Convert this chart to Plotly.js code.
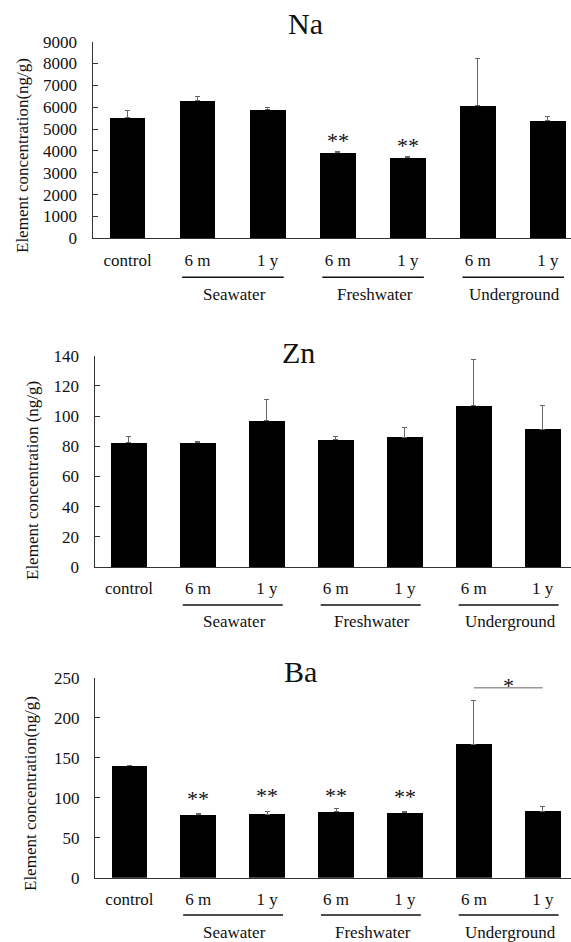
<!DOCTYPE html>
<html><head><meta charset="utf-8">
<script src="https://cdn.plot.ly/plotly-3.0.1.min.js"></script>
<style>html,body{margin:0;padding:0;background:#fff}</style>
</head><body><div id="chart" style="width:571px;height:942px"></div>
<script>
// ---- data ----
const catLabels = ["control", "6 m", "1 y", "6 m", "1 y", "6 m", "1 y"];
const groupNames = ["Seawater", "Freshwater", "Underground"];
const groupStart = [1, 3, 5];   // index of first bar in each group
const elements = ["Na", "Zn", "Ba"];

const naMean = [5520, 6300, 5880, 3920, 3690, 6070, 5380];
const naErr  = [350, 210, 110, 70, 40, 2150, 200];
const naSig  = ["", "", "", "**", "**", "", ""];

const znMean = [82.4, 82.4, 96.9, 84.3, 86.1, 106.9, 91.2];
const znErr  = [4.2, 0.8, 14.2, 2.0, 6.4, 30.4, 16.1];
const znSig  = ["", "", "", "", "", "", ""];

const baMean = [140, 78.8, 79.6, 82.5, 81.3, 166.7, 83.3];
const baErr  = [0.4, 2.0, 2.9, 3.8, 0.9, 55.4, 5.9];
const baSig  = ["", "**", "**", "**", "**", "", ""];
const baPair = {from: 5, to: 6, level: 237.5, mark: "*"};

const yTitles = ["Element concentration(ng/g)", "Element concentration (ng/g)", "Element concentration(ng/g)"];
const yMax = [9000, 140, 250];
const yStep = [1000, 20, 50];

// ---- layout geometry (pixels) ----
const W = 571, H = 942;
const FONT = "Liberation Serif";
const py = p => 1 - p / H;
const panels = [
  {mean: naMean, err: naErr, sig: naSig, axisX: 92.5, top: 41.7, bottom: 238.3, xr: [-0.5, 6.33], bw: 0.51,
   titleY: 23.3, titleX: 305.5, yTitleX: 23, yTitleY: 156, lineY: 277.3, grpY: 294.5, sigY: [null,null,null,4500,4270,null,null]},
  {mean: znMean, err: znErr, sig: znSig, axisX: 94.5, top: 355.7, bottom: 567, xr: [-0.5, 6.41], bw: 0.52,
   titleY: 352.5, titleX: 298.6, yTitleX: 32, yTitleY: 481, lineY: 605, grpY: 621.5, sigY: []},
  {mean: baMean, err: baErr, sig: baSig, axisX: 95, top: 677.7, bottom: 877.7, xr: [-0.5, 6.41], bw: 0.52,
   titleY: 671, titleX: 300.5, yTitleX: 30, yTitleY: 794, lineY: 915, grpY: 932, sigY: [null,99,103,103,101,null,null]}
];

const xIdx = catLabels.map((_, i) => i);
const data = [], annotations = [], shapes = [];
const layout = {
  width: W, height: H, margin: {l: 0, r: 0, t: 0, b: 0},
  paper_bgcolor: "#fff", plot_bgcolor: "#fff", showlegend: false,
  font: {family: FONT, size: 17, color: "#111"},
  bargap: 0
};

panels.forEach((p, k) => {
  const xa = k === 0 ? "x" : "x" + (k + 1);
  const ya = k === 0 ? "y" : "y" + (k + 1);
  data.push({
    type: "bar", x: xIdx, y: p.mean, xaxis: xa, yaxis: ya, width: p.bw,
    marker: {color: "#000", line: {width: 0}},
    error_y: {type: "data", symmetric: false, array: p.err, arrayminus: p.err.map(() => 0),
              color: "#666", thickness: 1, width: 2.5},
    hoverinfo: "skip"
  });
  layout["xaxis" + (k === 0 ? "" : k + 1)] = {
    domain: [p.axisX / W, 1], range: p.xr, anchor: ya,
    tickvals: xIdx, ticktext: catLabels, ticks: "", showgrid: false, zeroline: false,
    showline: true, linecolor: "#333", linewidth: 1, ticklabelstandoff: 6,
    tickfont: {family: FONT, size: 17, color: "#111"}, fixedrange: true
  };
  const ticks = [];
  for (let v = 0; v <= yMax[k] + 1e-9; v += yStep[k]) ticks.push(v);
  layout["yaxis" + (k === 0 ? "" : k + 1)] = {
    domain: [py(p.bottom), py(p.top)], range: [0, yMax[k]], anchor: xa,
    tickvals: ticks, ticks: "inside", ticklen: 5, tickcolor: "#333", showgrid: false, zeroline: false,
    showline: true, linecolor: "#333", linewidth: 1, ticklabelstandoff: 11,
    tickfont: {family: FONT, size: 17, color: "#111"}, fixedrange: true
  };
  // panel title
  annotations.push({text: elements[k], xref: "paper", yref: "paper", x: p.titleX / W, y: py(p.titleY),
    xanchor: "center", yanchor: "middle", showarrow: false, font: {family: FONT, size: 30, color: "#111"}});
  // y axis title
  annotations.push({text: yTitles[k], xref: "paper", yref: "paper", x: p.yTitleX / W, y: py(p.yTitleY),
    xanchor: "center", yanchor: "middle", textangle: -90, showarrow: false, font: {family: FONT, size: 17, color: "#111"}});
  // group lines + labels
  groupNames.forEach((g, j) => {
    const s = groupStart[j];
    shapes.push({type: "line", xref: xa, yref: "paper", x0: s - 0.22, x1: s + 1 + 0.23, y0: py(p.lineY), y1: py(p.lineY),
      line: {color: "#111", width: 1.5}});
    annotations.push({text: g, xref: xa, yref: "paper", x: s + 0.53, y: py(p.grpY), xanchor: "center", yanchor: "middle",
      showarrow: false, font: {family: FONT, size: 17, color: "#111"}});
  });
  // significance marks
  p.sig.forEach((s, i) => {
    if (!s) return;
    annotations.push({text: s, xref: xa, yref: ya, x: i, y: p.sigY[i], xanchor: "center", yanchor: "middle",
      showarrow: false, font: {family: FONT, size: 22, color: "#111"}});
  });
});

// Ba pairwise bracket
shapes.push({type: "line", xref: "x3", yref: "y3", x0: baPair.from, x1: baPair.to, y0: baPair.level, y1: baPair.level,
  line: {color: "#999", width: 1.5}});
annotations.push({text: baPair.mark, xref: "x3", yref: "y3", x: (baPair.from + baPair.to) / 2, y: baPair.level + 3,
  xanchor: "center", yanchor: "middle", showarrow: false, font: {family: FONT, size: 22, color: "#111"}});

layout.annotations = annotations;
layout.shapes = shapes;
Plotly.newPlot("chart", data, layout, {displayModeBar: false, staticPlot: true});
</script></body></html>
